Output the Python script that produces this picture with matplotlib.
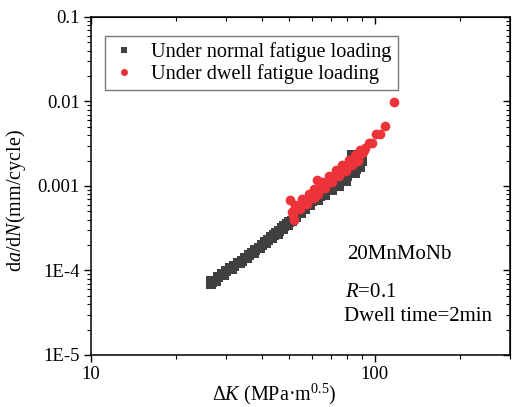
import numpy as np
import matplotlib
matplotlib.use("Agg")
import matplotlib.pyplot as plt
from matplotlib.ticker import LogLocator, FixedFormatter, NullFormatter

plt.rcParams['font.family'] = ['Liberation Serif', 'DejaVu Serif']
plt.rcParams['mathtext.fontset'] = 'custom'
plt.rcParams['mathtext.rm'] = 'Liberation Serif'
plt.rcParams['mathtext.it'] = 'Liberation Serif:italic'

# normal fatigue loading (black squares)
normal_dk = [26.4, 26.5, 26.6, 27, 28, 29, 30, 31, 32, 33, 34, 35, 36.1, 37, 38, 39,
             40, 41, 42, 43, 44, 45, 46, 47, 48, 49, 50, 52, 54, 56, 58, 60,
             62, 64, 66, 68, 70, 72, 74, 76, 78, 80, 82, 83, 84, 86, 88, 90]
normal_dadn = [7.0e-5, 7.6e-5, 7.3e-5, 7.6e-5, 8.3e-5, 9.0e-5, 9.8e-5, 1.06e-4,
               1.14e-4, 1.22e-4, 1.31e-4, 1.41e-4, 1.51e-4, 1.62e-4, 1.75e-4, 1.87e-4,
               2.01e-4, 2.15e-4, 2.30e-4, 2.46e-4, 2.62e-4, 2.79e-4, 2.96e-4, 3.14e-4,
               3.33e-4, 3.53e-4, 3.74e-4, 4.23e-4, 4.76e-4, 5.35e-4, 5.97e-4, 6.6e-4,
               7.2e-4, 7.7e-4, 8.3e-4, 8.9e-4, 9.6e-4, 1.02e-3, 1.09e-3, 1.16e-3,
               1.24e-3, 1.32e-3, 1.41e-3, 2.3e-3, 1.51e-3, 1.61e-3, 1.85e-3, 1.95e-3]
# a few extra points on the lower/upper edge of the black band
normal_edge_dk = [27.5, 29.5, 31.5, 33.5, 35.5, 37.5, 39.5, 41.5, 43.5, 45.5, 47.5, 49.5,
                  51, 53, 55, 57, 59, 63, 67, 71, 75, 79, 85, 89]
normal_edge_dadn = [7.6e-5, 8.9e-5, 1.04e-4, 1.21e-4, 1.39e-4, 1.60e-4, 1.85e-4, 2.11e-4,
                    2.41e-4, 2.72e-4, 3.06e-4, 3.42e-4, 3.8e-4, 4.3e-4, 4.8e-4, 5.4e-4,
                    6.0e-4, 6.9e-4, 7.8e-4, 8.9e-4, 1.01e-3, 1.15e-3, 1.43e-3, 1.68e-3]

# dwell fatigue loading (red circles)
dwell_dk = [50.2, 51, 51.5, 51.9, 52, 52.5, 53, 54, 54.5, 55, 55.5, 56, 57, 57.5,
            58, 58.5, 59, 60, 61, 61, 62, 62.5, 63, 64, 65, 66, 67, 68, 69, 70,
            71, 72, 73, 74, 75, 76, 77, 78, 79, 80, 81, 82, 83, 84, 85, 86, 87,
            88, 89, 90, 92, 92.5, 95.3, 97.7, 100.8, 104.1, 108.4, 117]
dwell_dadn = [6.8e-4, 4.9e-4, 4.5e-4, 4.0e-4, 5.2e-4, 6.0e-4, 5.5e-4, 5.8e-4, 5.3e-4,
              6.1e-4, 7.0e-4, 6.4e-4, 6.75e-4, 6.2e-4, 7.1e-4, 8.1e-4, 7.4e-4, 7.8e-4,
              9.2e-4, 7.3e-4, 8.6e-4, 1.18e-3, 8.0e-4, 9.4e-4, 1.10e-3, 1.02e-3, 9.5e-4,
              1.11e-3, 1.30e-3, 1.21e-3, 1.12e-3, 1.31e-3, 1.53e-3, 1.42e-3, 1.31e-3,
              1.53e-3, 1.78e-3, 1.64e-3, 1.52e-3, 1.77e-3, 2.05e-3, 1.90e-3, 1.75e-3,
              2.03e-3, 2.35e-3, 2.17e-3, 2.0e-3, 2.32e-3, 2.64e-3, 2.47e-3, 2.63e-3,
              2.8e-3, 3.2e-3, 3.2e-3, 4.1e-3, 4.1e-3, 5.1e-3, 9.8e-3]
# filling points along the middle of the red band
dwell_mid_dk = [53.5, 56.5, 59.5, 61, 63, 65, 67, 69, 71, 73, 75, 77, 79, 81, 83, 85, 87,
                89, 91]
dwell_mid_dadn = [5.6e-4, 6.6e-4, 7.6e-4, 8.2e-4, 9.0e-4, 9.8e-4, 1.07e-3, 1.16e-3,
                  1.26e-3, 1.36e-3, 1.47e-3, 1.59e-3, 1.71e-3, 1.83e-3, 1.96e-3, 2.10e-3,
                  2.24e-3, 2.39e-3, 2.55e-3]

y_major = [1e-5, 1e-4, 1e-3, 1e-2, 1e-1]
y_labels = ['1E-5', '1E-4', '0.001', '0.01', '0.1']
x_major = [10, 100]
x_labels = ['10', '100']

fig = plt.figure(figsize=(5.13, 4.07), dpi=100)
ax = fig.add_axes([0.1774, 0.1278, 0.8168, 0.8305])

black = '#404040'
red = '#ec3339'
ax.plot(normal_edge_dk, normal_edge_dadn, 's', color=black, markersize=6.5, markeredgewidth=0)
ax.plot(normal_dk, normal_dadn, 's', color=black, markersize=6.5, markeredgewidth=0,
        label='Under normal fatigue loading')
ax.plot(dwell_mid_dk, dwell_mid_dadn, 'o', color=red, markersize=7, markeredgewidth=0)
ax.plot(dwell_dk, dwell_dadn, 'o', color=red, markersize=7, markeredgewidth=0,
        label='Under dwell fatigue loading')

ax.set_xscale('log')
ax.set_yscale('log')
ax.set_xlim(10, 300)
ax.set_ylim(1e-5, 0.1)

ax.set_xticks(x_major)
ax.xaxis.set_major_formatter(FixedFormatter(x_labels))
ax.set_yticks(y_major)
ax.yaxis.set_major_formatter(FixedFormatter(y_labels))
ax.xaxis.set_minor_locator(LogLocator(base=10, subs=np.arange(2, 10)))
ax.yaxis.set_minor_locator(LogLocator(base=10, subs=np.arange(2, 10)))
ax.xaxis.set_minor_formatter(NullFormatter())
ax.yaxis.set_minor_formatter(NullFormatter())

ax.tick_params(which='major', direction='out', length=5, width=1, labelsize=13.5, pad=3)
ax.tick_params(which='minor', direction='out', length=3, width=0.8)
for s in ax.spines.values():
    s.set_linewidth(1.1)

# mirrored inward ticks on top and right
top = ax.secondary_xaxis('top')
top.set_xticks(x_major)
top.xaxis.set_minor_locator(LogLocator(base=10, subs=np.arange(2, 10)))
top.tick_params(which='major', direction='in', length=5, width=1, labeltop=False)
top.tick_params(which='minor', direction='in', length=3, width=0.8)
top.xaxis.set_minor_formatter(NullFormatter())
right = ax.secondary_yaxis('right')
right.set_yticks(y_major)
right.yaxis.set_minor_locator(LogLocator(base=10, subs=np.arange(2, 10)))
right.tick_params(which='major', direction='in', length=5, width=1, labelright=False)
right.tick_params(which='minor', direction='in', length=3, width=0.8)
right.yaxis.set_minor_formatter(NullFormatter())

ax.set_xlabel('Δ$\\mathit{K}$ (MPa·m$^{0.5}$)', fontsize=14.5)
ax.xaxis.set_label_coords(0.437, -0.08)
ax.set_ylabel('d$\\mathit{a}$/d$\\mathit{N}$(mm/cycle)', fontsize=14.5)
ax.yaxis.set_label_coords(-0.15, 0.456)

leg = ax.legend(loc='upper left', bbox_to_anchor=(0.033, 0.944), fontsize=14.6,
                frameon=True, fancybox=False, borderpad=0.3, handletextpad=0.7,
                labelspacing=0.12, handlelength=1.3, borderaxespad=0, markerscale=0.72)
leg.get_frame().set_edgecolor('#555555')
leg.get_frame().set_linewidth(1.0)

ax.text(0.611, 0.296, '20MnMoNb', transform=ax.transAxes, fontsize=15, va='center')
ax.text(0.607, 0.186, '$\\mathit{R}$=0.1', transform=ax.transAxes, fontsize=15, va='center')
ax.text(0.603, 0.115, 'Dwell time=2min', transform=ax.transAxes, fontsize=15, va='center')

fig.savefig('out.png', dpi=100)
